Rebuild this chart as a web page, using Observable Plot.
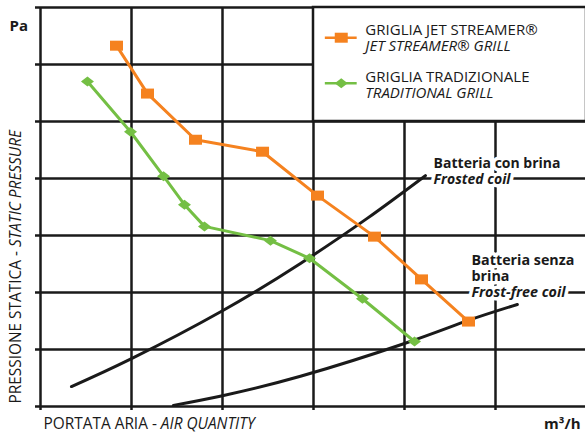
<!DOCTYPE html>
<html><head><meta charset="utf-8">
<script src="https://cdn.jsdelivr.net/npm/d3@7"></script>
<script src="https://cdn.jsdelivr.net/npm/@observablehq/plot@0.6"></script>
<style>body{margin:0;background:#fff} #chart svg{font-family:"Open Sans",sans-serif;overflow:visible}</style>
</head><body><div id="chart"></div><script>
// ---- data (abstract grid units) ----
const xGrid = [0, 1, 2, 3, 4, 5, 6];
const yGrid = [0, 1, 2, 3, 4, 5, 6, 7];
const jetX = [0.835, 1.176, 1.703, 2.44, 3.044, 3.67, 4.187, 4.703];
const jetY = [6.33, 5.49, 4.68, 4.47, 3.70, 2.98, 2.23, 1.49];
const tradX = [0.516, 0.989, 1.352, 1.582, 1.802, 2.527, 2.956, 3.538, 4.11];
const tradY = [5.70, 4.82, 4.04, 3.54, 3.16, 2.91, 2.60, 1.89, 1.14];
const frostedX = [0.34, 1.0, 2.0, 2.857, 3.59, 4.23];
const frostedY = [0.35, 0.84, 1.68, 2.51, 3.30, 4.05];
const frostFreeX = [1.46, 2.0, 2.857, 4.0, 4.70, 5.24];
const frostFreeY = [0.02, 0.19, 0.53, 1.105, 1.51, 1.79];
// "_" at the start of a line marks an italic line
const seriesNames = ["GRIGLIA JET STREAMER®\n_JET STREAMER® GRILL", "GRIGLIA TRADIZIONALE\n_TRADITIONAL GRILL"];
const frostedLabel = "Batteria con brina\n_Frosted coil";
const frostFreeLabel = "Batteria senza\nbrina\n_Frost-free coil";
// "|" marks the start of the italic part
const yTitle = "PRESSIONE STATICA - |STATIC PRESSURE";
const xTitle = "PORTATA ARIA - |AIR QUANTITY";
const yUnit = "Pa";
const xUnit = "m³/h";

// ---- styling / layout ----
const ORANGE = "#f5821f", GREEN = "#74bf44", INK = "#1a1a1a";
const pts = (xs, ys) => xs.map((x, i) => ({x, y: ys[i]}));
const rectSym = {draw(c) { const w = 6.5, h = 5; c.moveTo(-w, -h); c.lineTo(w, -h); c.lineTo(w, h); c.lineTo(-w, h); c.closePath(); }};
const diamSym = {draw(c) { const w = 6.5, h = 5; c.moveTo(0, -h); c.lineTo(w, 0); c.lineTo(0, h); c.lineTo(-w, 0); c.closePath(); }};
const legendBox = {x1: 3, x2: 6, y1: 5, y2: 7};
const legendLayout = {lineX1: 3.13, lineX2: 3.48, textX: 3.57, rows: [{y: 6.47, t: 6.46}, {y: 5.67, t: 5.65}]};
const frostedPos = {x: 4.32, y: 4.14};
const frostFreePos = {x: 4.736, y: 2.29};
const legendItems = [{color: ORANGE, sym: rectSym}, {color: GREEN, sym: diamSym}];

const marks = [
  Plot.ruleX(xGrid, {stroke: INK, strokeWidth: 2.5}),
  Plot.ruleY(yGrid, {stroke: INK, strokeWidth: 2.5}),
  Plot.axisY(yGrid, {tickSize: 5, tickFormat: () => "", stroke: INK, strokeWidth: 2.5, label: null}),
  Plot.axisX(xGrid, {tickSize: 4, tickFormat: () => "", stroke: INK, strokeWidth: 2.5, label: null}),
  Plot.line(pts(frostedX, frostedY), {x: "x", y: "y", curve: "natural", stroke: INK, strokeWidth: 3}),
  Plot.line(pts(frostFreeX, frostFreeY), {x: "x", y: "y", curve: "natural", stroke: INK, strokeWidth: 3}),
  Plot.line(pts(jetX, jetY), {x: "x", y: "y", stroke: ORANGE, strokeWidth: 3}),
  Plot.dot(pts(jetX, jetY), {x: "x", y: "y", symbol: rectSym, fill: ORANGE, stroke: "none"}),
  Plot.line(pts(tradX, tradY), {x: "x", y: "y", stroke: GREEN, strokeWidth: 3}),
  Plot.dot(pts(tradX, tradY), {x: "x", y: "y", symbol: diamSym, fill: GREEN, stroke: "none"}),
  Plot.rect([legendBox], {x1: "x1", x2: "x2", y1: "y1", y2: "y2", fill: "white", stroke: INK, strokeWidth: 2.5})
];
legendItems.forEach((it, i) => {
  const row = legendLayout.rows[i];
  marks.push(
    Plot.ruleY([row.y], {x1: legendLayout.lineX1, x2: legendLayout.lineX2, stroke: it.color, strokeWidth: 2.5}),
    Plot.dot([0], {x: (legendLayout.lineX1 + legendLayout.lineX2) / 2, y: row.y, symbol: it.sym, fill: it.color, stroke: "none"}),
    Plot.text([seriesNames[i]], {x: legendLayout.textX, y: row.t, text: d => d, textAnchor: "start", fontSize: 15, lineHeight: 1.07, fill: INK})
  );
});
marks.push(
  Plot.text([frostedLabel], {x: frostedPos.x, y: frostedPos.y, text: d => d, textAnchor: "start", fontSize: 14, lineHeight: 1.15, fontWeight: "bold", fill: INK, stroke: "white", strokeWidth: 7}),
  Plot.text([frostFreeLabel], {x: frostFreePos.x, y: frostFreePos.y, text: d => d, textAnchor: "start", fontSize: 14.3, lineHeight: 1.14, fontWeight: "bold", fill: INK, stroke: "white", strokeWidth: 7}),
  Plot.text([yUnit], {frameAnchor: "top-left", dx: -31, dy: 13, textAnchor: "start", text: d => d, fontSize: 15, fontWeight: "bold", fill: INK}),
  Plot.text([yTitle], {frameAnchor: "bottom-left", dx: -20, dy: -3, rotate: -90, textAnchor: "start", text: d => d, fontSize: 15.4, fill: INK}),
  Plot.text([xTitle], {frameAnchor: "bottom-left", dx: 3, dy: 22, textAnchor: "start", text: d => d, fontSize: 15.4, fill: INK}),
  Plot.text([xUnit], {frameAnchor: "bottom-right", dx: -5, dy: 22, textAnchor: "end", text: d => d, fontSize: 15, fontWeight: "bold", fill: INK})
);

const chart = Plot.plot({
  width: 585, height: 434,
  marginLeft: 40, marginRight: 0, marginTop: 7, marginBottom: 28,
  x: {domain: [0, 6], range: [40, 586], axis: null},
  y: {domain: [0, 7], range: [406, 7], axis: null},
  style: {background: "white", overflow: "visible"},
  marks
});
const svg = d3.select(chart);
svg.selectAll("tspan").each(function() {
  const el = d3.select(this);
  const s = el.text();
  if (s.startsWith("_")) el.text(s.slice(1)).attr("font-style", "italic");
});
svg.selectAll("text").each(function() {
  const el = d3.select(this);
  if (this.querySelector("tspan")) return;
  const s = el.text();
  if (s.includes("|")) {
    const [a, b] = s.split("|");
    el.text(null);
    el.append("tspan").text(a);
    el.append("tspan").attr("font-style", "italic").text(b);
  }
});
document.getElementById("chart").append(chart);
</script></body></html>
